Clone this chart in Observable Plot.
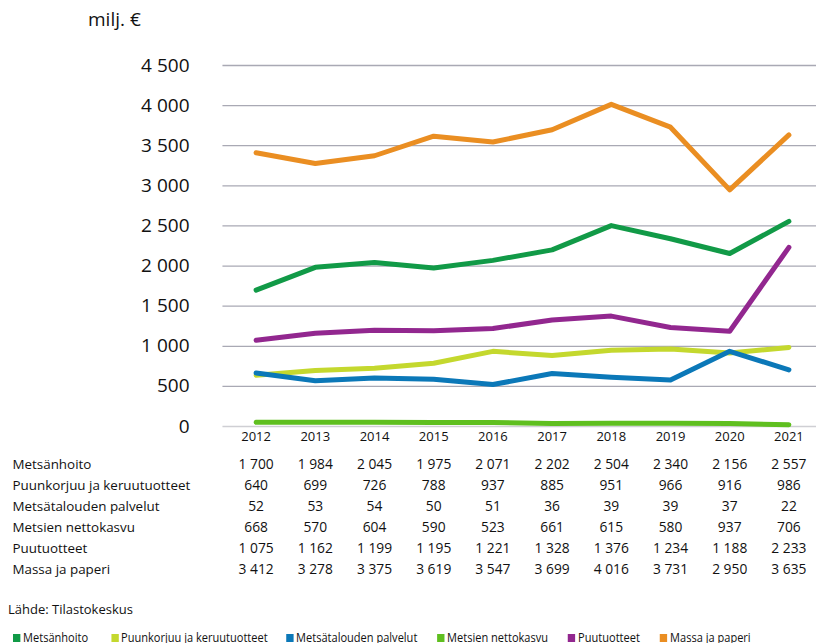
<!DOCTYPE html>
<html><head><meta charset="utf-8">
<script src="https://cdn.jsdelivr.net/npm/d3@7"></script>
<script src="https://cdn.jsdelivr.net/npm/@observablehq/plot@0.6"></script>
<style>
body{margin:0;background:#fff;font-family:"Open Sans",sans-serif;color:#111;width:816px;height:643px;overflow:hidden;position:relative}
#unit{position:absolute;left:88px;top:6px;font-size:19px}
#src{position:absolute;left:8px;top:600px;font-size:13px}
#legend{position:absolute;left:13px;top:629px;font-size:12px;white-space:nowrap;transform:scaleX(0.92);transform-origin:left}
#legend span.it{position:absolute;top:0}
#legend i{display:inline-block;width:8px;height:8px;margin-right:3px;vertical-align:0px}
svg{display:block}
</style></head><body>
<div id="unit">milj. €</div>
<div id="chart"></div>
<div id="table"></div>
<div id="src">Lähde: Tilastokeskus</div>
<div id="legend"></div>
<script>
const years = [2012,2013,2014,2015,2016,2017,2018,2019,2020,2021];
const seriesNames = ["Metsänhoito","Puunkorjuu ja keruutuotteet","Metsätalouden palvelut","Metsien nettokasvu","Puutuotteet","Massa ja paperi"];
const metsanhoito = [1700,1984,2045,1975,2071,2202,2504,2340,2156,2557];
const puunkorjuu = [640,699,726,788,937,885,951,966,916,986];
const palvelut = [52,53,54,50,51,36,39,39,37,22];
const nettokasvu = [668,570,604,590,523,661,615,580,937,706];
const puutuotteet = [1075,1162,1199,1195,1221,1328,1376,1234,1188,2233];
const massa = [3412,3278,3375,3619,3547,3699,4016,3731,2950,3635];
const yTicks = [0,500,1000,1500,2000,2500,3000,3500,4000,4500];
// line colours as drawn in the picture (blue line carries the 668… values, green near-zero line the 52… values)
const legendColors = ["#119a47","#c4d82e","#0b78b8","#5fbf1f","#92278f","#ea8e22"];
const lineSeries = [
  {name:"Metsänhoito", values:metsanhoito, color:"#119a47"},
  {name:"Puunkorjuu ja keruutuotteet", values:puunkorjuu, color:"#c4d82e"},
  {name:"Metsätalouden palvelut", values:palvelut, color:"#5fbf1f"},
  {name:"Metsien nettokasvu", values:nettokasvu, color:"#0b78b8"},
  {name:"Puutuotteet", values:puutuotteet, color:"#92278f"},
  {name:"Massa ja paperi", values:massa, color:"#ea8e22"}
];
const tableRows = [metsanhoito,puunkorjuu,palvelut,nettokasvu,puutuotteet,massa];

const fmtBig = d3.formatLocale({decimal:",",thousands:"\u00a0",grouping:[3],currency:["","€"]}).format(",d");
const fmtSmall = d3.formatLocale({decimal:",",thousands:"\u00a0",grouping:[3],currency:["","€"]}).format(",d");

const lineData = lineSeries.flatMap(s => s.values.map((v,i)=>({name:s.name, year:years[i], value:v, color:s.color})));
const xDomain = [2011.5, 2021.5];
const xRange = [226, 818];

const chart = Plot.plot({
  width:816, height:450,
  marginTop:65, marginBottom:24, marginLeft:223, marginRight:0,
  style:{fontFamily:"Open Sans", color:"#111", overflow:"visible"},
  x:{domain:xDomain, range:xRange, label:null},
  y:{domain:[0,4500], label:null},
  marks:[
    Plot.ruleY(yTicks.filter(d=>d>0), {stroke:"#a9a9b4", strokeWidth:1.3, x1:xDomain[0]-0.06, x2:xDomain[1]}),
    Plot.ruleY([0], {stroke:"#cfcfd4", strokeWidth:1.5, x1:xDomain[0]-0.06, x2:xDomain[1]}),
    Plot.axisY({ticks:yTicks, tickFormat:fmtBig, tickSize:0, tickPadding:34, fontSize:19, fill:"#111", label:null}),
    Plot.axisX({ticks:years, tickFormat:d=>String(d), tickSize:0, tickPadding:5, fontSize:13, fill:"#111", label:null}),
    Plot.line(lineData, {x:"year", y:"value", z:"name", stroke:"color", strokeWidth:5, strokeLinejoin:"round", strokeLinecap:"round"})
  ]
});
document.getElementById("chart").appendChild(chart);

const cells = tableRows.flatMap((vals,r)=>vals.map((v,i)=>({row:seriesNames[r], year:years[i], value:v})));
const table = Plot.plot({
  width:816, height:135,
  marginTop:0, marginBottom:0, marginLeft:0, marginRight:0,
  style:{fontFamily:"Open Sans", color:"#111", overflow:"visible"},
  x:{domain:xDomain, range:xRange, axis:null},
  y:{type:"point", domain:seriesNames, range:[12,121], padding:0, axis:null},
  marks:[
    Plot.text(seriesNames, {y:d=>d, frameAnchor:"left", textAnchor:"start", dx:12, fontSize:13.4, fill:"#111"}),
    Plot.text(cells, {x:"year", y:"row", text:d=>fmtSmall(d.value), fontSize:13.8, fill:"#111"})
  ]
});
document.getElementById("table").appendChild(table);

const legendX = [0, 98, 273, 424, 555, 647];
const lg = document.getElementById("legend");
seriesNames.forEach((n,i)=>{
  const s = document.createElement("span");
  s.className="it";
  s.style.left = (legendX[i]/0.92)+"px";
  s.innerHTML = `<i style="background:${legendColors[i]}"></i>${n}`;
  lg.appendChild(s);
});
</script>
</body></html>
